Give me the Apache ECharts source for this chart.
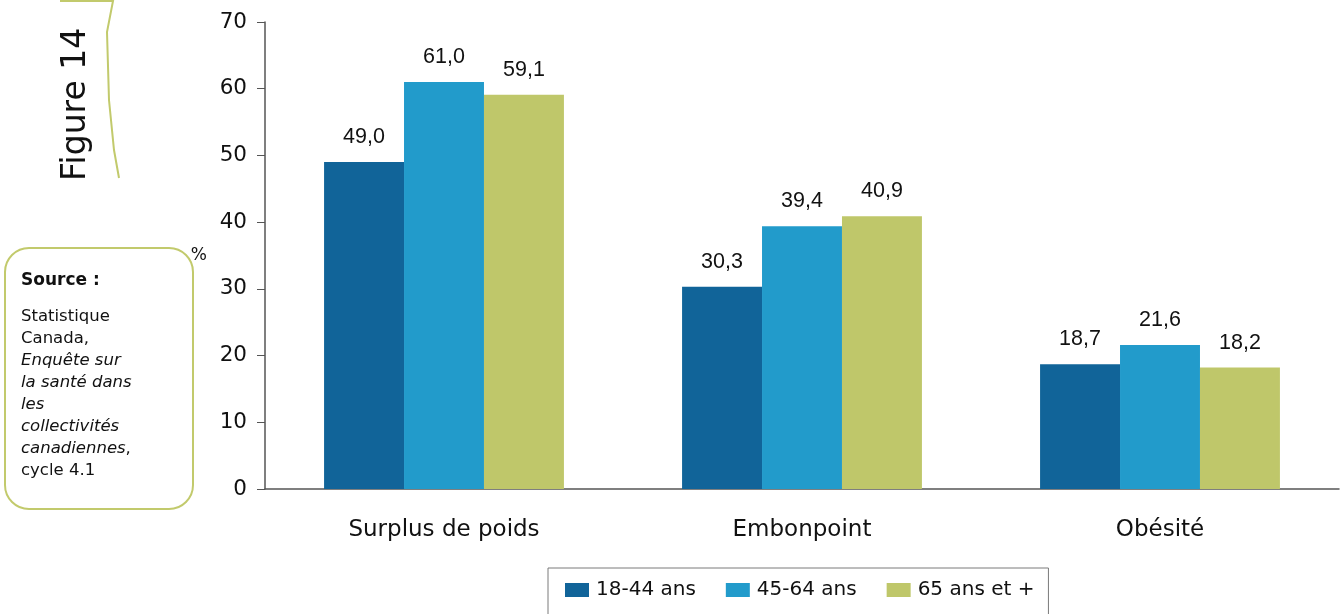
<!DOCTYPE html>
<html>
<head>
<meta charset="utf-8">
<script src="https://cdn.jsdelivr.net/npm/echarts@6/dist/echarts.min.js"></script>
<style>
  html, body { margin: 0; padding: 0; background: #fff; }
  #chart { width: 1340px; height: 614px; }
</style>
</head>
<body>
<div id="chart"></div>
<script>
// Excess weight by age group (%)
const categories = ['Surplus de poids', 'Embonpoint', 'Obésité'];
const seriesNames = ['18-44 ans', '45-64 ans', '65 ans et +'];
const values18to44 = [49.0, 30.3, 18.7];
const values45to64 = [61.0, 39.4, 21.6];
const values65plus = [59.1, 40.9, 18.2];
const yTicks = [0, 10, 20, 30, 40, 50, 60, 70];

const colors = ['#116499', '#229bcb', '#bfc76a'];
const bracketGreen = '#c2ca6c';
const geoFont = '"DejaVu Sans", "Liberation Sans", sans-serif';
const labelFont = '"Liberation Sans", Arial, sans-serif';

const chart = echarts.init(document.getElementById('chart'), null, { renderer: 'canvas' });

function barSeries(name, data, color) {
  return {
    name: name,
    type: 'bar',
    data: data,
    barGap: '0%',
    barCategoryGap: '33%',
    itemStyle: { color: color },
    label: {
      show: true,
      position: 'top',
      distance: 14,
      color: '#111',
      fontFamily: labelFont,
      fontSize: 21.5,
      formatter: p => p.value.toFixed(1).replace('.', ',')
    }
  };
}

chart.setOption({
  animation: false,
  color: colors,
  grid: { left: 265, right: 1, top: 22, bottom: 125 },
  legend: {
    left: 548,
    top: 568,
    data: seriesNames,
    itemWidth: 24,
    itemHeight: 14,
    itemGap: 30,
    padding: [12, 14, 30, 17],
    borderColor: '#7a7a7a',
    borderWidth: 1,
    icon: 'rect',
    textStyle: { fontFamily: geoFont, fontSize: 20, color: '#111', padding: [0, 0, 0, 2] }
  },
  xAxis: {
    type: 'category',
    data: categories,
    axisLine: { lineStyle: { color: '#555', width: 1.5 } },
    axisTick: { show: false },
    axisLabel: { fontFamily: geoFont, fontSize: 23, color: '#111', margin: 30 }
  },
  yAxis: {
    type: 'value',
    min: yTicks[0],
    max: yTicks[yTicks.length - 1],
    interval: 10,
    name: '%',
    nameLocation: 'middle',
    nameRotate: 0,
    nameGap: 58,
    nameTextStyle: { fontFamily: geoFont, fontSize: 17, color: '#111' },
    axisLine: { show: true, lineStyle: { color: '#555', width: 1.5 } },
    axisTick: { show: true, inside: false, length: 8, lineStyle: { color: '#555' } },
    axisLabel: { fontFamily: geoFont, fontSize: 21.5, color: '#111', margin: 18 },
    splitLine: { show: false }
  },
  series: [
    barSeries(seriesNames[0], values18to44, colors[0]),
    barSeries(seriesNames[1], values45to64, colors[1]),
    barSeries(seriesNames[2], values65plus, colors[2])
  ],
  graphic: [
    {
      type: 'text',
      x: 93, y: 181,
      rotation: Math.PI / 2,
      style: {
        text: 'Figure 14',
        font: '33px ' + geoFont,
        fill: '#111',
        textAlign: 'left',
        textVerticalAlign: 'bottom'
      }
    },
    {
      type: 'polyline',
      shape: { points: [[60, 1], [113, 1], [107, 32], [109, 100], [114, 150], [119, 178]] },
      style: { stroke: bracketGreen, lineWidth: 2, fill: null }
    },
    {
      type: 'rect',
      shape: { x: 5, y: 248, width: 188, height: 261, r: 24 },
      style: { stroke: bracketGreen, lineWidth: 2, fill: '#fff' }
    },
    {
      type: 'text',
      x: 21, y: 270,
      style: {
        text: [
          '{b|Source :}',
          '{gap|}',
          '{n|Statistique}',
          '{n|Canada,}',
          '{i|Enquête sur}',
          '{i|la santé dans}',
          '{i|les}',
          '{i|collectivités}',
          '{i|canadiennes}{n|,}',
          '{n|cycle 4.1}'
        ].join('\n'),
        rich: {
          b: { fontFamily: geoFont, fontSize: 17, fontWeight: 'bold', fill: '#111', lineHeight: 22 },
          gap: { fontSize: 8, lineHeight: 14 },
          n: { fontFamily: geoFont, fontSize: 16.5, fill: '#111', lineHeight: 22 },
          i: { fontFamily: geoFont, fontSize: 16.5, fontStyle: 'italic', fill: '#111', lineHeight: 22 }
        }
      }
    }
  ]
});
</script>
</body>
</html>
